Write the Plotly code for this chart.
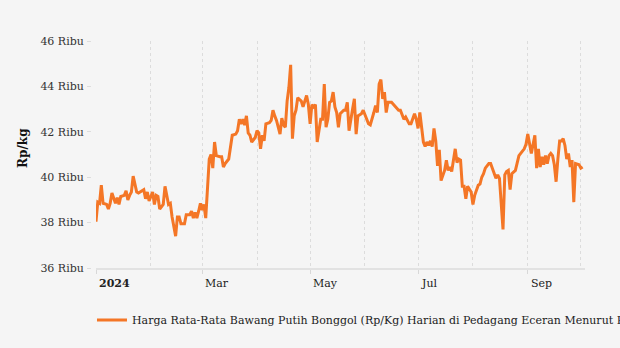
import pandas as pd
import plotly.graph_objects as go

# ---- data ----
start_date = "2024-01-01"
day_offsets = [0, 1, 2, 3, 4, 6, 7, 8, 9, 11, 12, 13, 14, 16, 17, 18, 19, 20, 21, 23,
               24, 26, 27, 28, 29, 30, 32, 33, 34, 35, 36, 38, 39, 41, 42, 43, 44, 45, 46, 47,
               48, 50, 51, 53, 54, 55, 56, 57, 58, 59, 60, 61, 62, 63, 64, 65, 66, 67, 68, 70,
               71, 72, 73, 75, 76, 77, 79, 80, 81, 82, 83, 84, 85, 86, 87, 88, 90, 91, 92, 93,
               94, 95, 96, 98, 99, 100, 101, 102, 104, 105, 106, 107, 108, 109, 110, 111, 112, 113, 114, 116,
               117, 119, 120, 121, 122, 123, 124, 125, 127, 128, 129, 130, 131, 132, 133, 134, 135, 136, 137, 138,
               140, 141, 142, 143, 145, 146, 147, 148, 150, 151, 153, 154, 155, 156, 157, 158, 159, 160, 161, 162,
               163, 164, 165, 167, 169, 171, 172, 174, 175, 177, 178, 180, 181, 182, 183, 185, 186, 187, 188, 189,
               190, 191, 192, 193, 194, 195, 197, 198, 199, 200, 201, 203, 204, 205, 206, 207, 208, 209, 210, 211,
               212, 213, 214, 216, 217, 218, 219, 220, 222, 223, 225, 226, 227, 228, 230, 231, 232, 233, 234, 235,
               237, 238, 239, 240, 242, 243, 244, 246, 247, 248, 249, 250, 251, 252, 253, 254, 255, 256, 257, 258,
               259, 260, 261, 262, 263, 264, 265, 266, 267, 268, 269, 270, 271, 273, 274, 275]

prices = [38040, 38900, 38850, 39650, 38850, 38800, 38600, 38850, 39300, 38850, 39100, 38800, 39150, 39200, 39400, 39000, 39200, 39350, 40050, 39350,
          39300, 39400, 39450, 39050, 39350, 38950, 39350, 38800, 39200, 39150, 38600, 38800, 39600, 38800, 38850, 38250, 37900, 37400, 38250, 38250,
          37950, 37950, 38350, 38350, 38500, 38200, 38450, 38200, 38500, 38850, 38550, 38800, 38200, 39400, 40800, 41000, 40400, 41550, 40950, 40900,
          40900, 40450, 40600, 40800, 41300, 41850, 41900, 42050, 42550, 42350, 42550, 42300, 42700, 41950, 41850, 41550, 41750, 42050, 41950, 41250,
          41850, 41600, 42350, 42400, 42500, 42950, 42700, 42500, 41900, 42600, 42300, 42200, 43350, 43950, 44950, 41700, 42700, 42950, 43500, 43350,
          43100, 43600, 43200, 42350, 43200, 43100, 43200, 41550, 42550, 42550, 44100, 42200, 42550, 43300, 43350, 43750, 43100, 42850, 42200, 42800,
          42950, 42950, 43300, 42050, 43000, 43450, 41900, 42700, 42800, 42950, 42550, 42350, 42300, 42650, 42850, 43150, 42850, 44100, 44300, 43450,
          43750, 42850, 43300, 43300, 43100, 42950, 42950, 42550, 42650, 42350, 42350, 42800, 42550, 42150, 42850, 41550, 41350, 41550, 41400, 41600,
          41350, 42150, 41600, 40500, 41200, 39850, 40300, 40750, 40300, 40450, 40250, 41250, 40650, 40800, 40750, 39600, 39600, 39050, 39600, 39500,
          39350, 38800, 39200, 39650, 39700, 40000, 40150, 40400, 40600, 40600, 40100, 39950, 40100, 39950, 37700, 40100, 40250, 40300, 39450, 40150,
          40300, 40650, 40950, 41050, 41250, 41450, 41900, 41050, 41400, 41850, 40400, 41250, 40450, 40900, 40550, 40950, 40600, 40950, 41050, 40950,
          40550, 39800, 40800, 41600, 41600, 41700, 41400, 40800, 41050, 40450, 40750, 38900, 40600, 40550, 40400, 40450]

series_name = "Harga Rata-Rata Bawang Putih Bonggol (Rp/Kg) Harian di Pedagang Eceran Menurut Provinsi"
y_title = "Rp/kg"

y_tick_values = [36000, 38000, 40000, 42000, 44000, 46000]
y_tick_labels = ["36 Ribu", "38 Ribu", "40 Ribu", "42 Ribu", "44 Ribu", "46 Ribu"]

x_tick_dates = ["2024-01-01", "2024-03-01", "2024-05-01", "2024-07-01", "2024-09-01"]
x_tick_labels = ["<b>2024</b>", "Mar", "May", "Jul", "Sep"]

dates = pd.Timestamp(start_date) + pd.to_timedelta(day_offsets, unit="D")

FONT = "DejaVu Serif"
BG = "#f5f5f5"
GRID = "#dcdcdc"
ORANGE = "#f47626"

fig = go.Figure()
fig.add_trace(go.Scatter(
    x=dates, y=prices, mode="lines", name=series_name,
    line=dict(color=ORANGE, width=3),
))

for d, lab in zip(x_tick_dates, x_tick_labels):
    fig.add_annotation(
        x=d, y=0, xref="x", yref="paper", text=lab, showarrow=False,
        xanchor="left", yanchor="middle", xshift=1, yshift=-15,
        font=dict(family=FONT, size=11, color="#222"),
    )

# y-axis title placed as rotated text
fig.add_annotation(
    x=0, y=0.529, xref="paper", yref="paper", text="<b>" + y_title + "</b>",
    showarrow=False, textangle=-90, xanchor="center", yanchor="middle", xshift=-68,
    font=dict(family=FONT, size=12, color="#111"),
)

fig.update_layout(
    width=620, height=348,
    paper_bgcolor=BG, plot_bgcolor=BG,
    margin=dict(l=91, r=35, t=41, b=80, autoexpand=False),
    font=dict(family=FONT, size=11, color="#333"),
    showlegend=True,
    legend=dict(
        orientation="h", x=0.002, xanchor="left", y=-0.229, yanchor="middle",
        font=dict(family=FONT, size=11, color="#222"), bgcolor="rgba(0,0,0,0)",
    ),
    xaxis=dict(
        type="date",
        domain=[5 / 494, 1],
        range=["2024-01-01", "2024-10-03 08:00"],
        tick0="2024-01-01", dtick="M2",
        showticklabels=False,
        ticks="outside", ticklen=4, tickcolor="#d8d8d8",
        showgrid=True, gridcolor=GRID, griddash="dot", gridwidth=1,
        minor=dict(dtick="M1", tick0="2024-01-01", showgrid=True, gridcolor=GRID, griddash="dot", ticks=""),
        showline=True, linecolor="#e2e2e2", linewidth=2,
        zeroline=False,
    ),
    yaxis=dict(
        anchor="free", position=0,
        range=[36000, 46000],
        tickvals=y_tick_values, ticktext=y_tick_labels,
        ticks="outside", ticklen=4, tickcolor="#dddddd",
        ticklabelstandoff=1,
        showgrid=False, zeroline=False, showline=False,
        tickfont=dict(family=FONT, size=11, color="#333"),
    ),
)

fig.write_html("out.html")
